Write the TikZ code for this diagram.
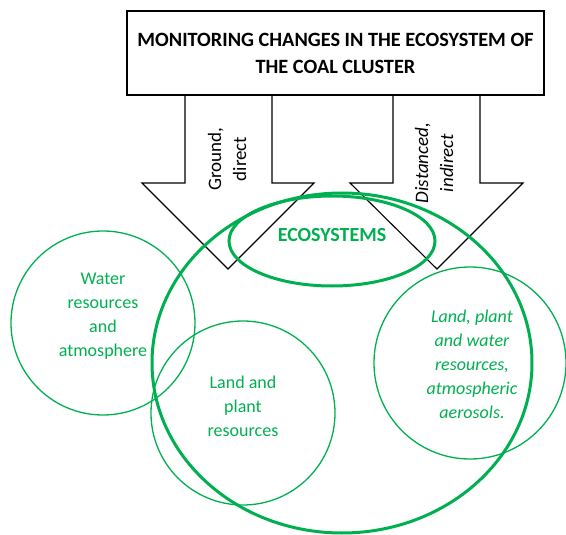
\documentclass[tikz,border=0pt]{standalone}
\usepackage{fontspec}
\usetikzlibrary{shapes.geometric}
\setmainfont{Carlito}
\definecolor{eco}{RGB}{0,176,80}
\begin{document}
\begin{tikzpicture}[x=1pt,y=-1pt,
  thin green/.style={draw=eco,line width=1.3pt},
  thick green/.style={draw=eco,line width=3pt},
  bigarrow/.style={draw=black,line width=1.1pt,line join=miter},
  greentext/.style={text=eco,align=center,font=\fontsize{18}{24}\selectfont},
  arrowtext/.style={align=center,rotate=90,font=\fontsize{19}{25}\selectfont}]
\useasboundingbox (0,0) rectangle (566,535);
% title
\node[draw,line width=2.5pt,minimum width=417pt,minimum height=84pt,inner sep=0pt,
  align=center,font=\bfseries\fontsize{20.3}{27}\selectfont] (title) at (335.5,53)
  {MONITORING CHANGES IN THE ECOSYSTEM OF\\THE COAL CLUSTER};
% arrows
\draw[bigarrow] (185,95) -- (185,183) -- (142,183) -- (228,269) -- (314,183) -- (272,183) -- (272,95);
\draw[bigarrow] (393,95) -- (393,183) -- (350,183) -- (437,269) -- (523,183) -- (480,183) -- (480,95);
\node[arrowtext] (ground) at (227,159) {Ground,\\direct};
\node[arrowtext,font=\itshape\fontsize{19}{25}\selectfont] (dist) at (434,163) {Distanced,\\indirect};
% circles
\draw[thick green] (342,363) ellipse [x radius=190, y radius=170];
\node[thick green,ellipse,minimum width=206pt,minimum height=90pt,inner sep=0pt] (eco) at (332,241) {};
\node[text=eco,font=\bfseries\fontsize{20}{24}\selectfont] (ecot) at (332,235) {ECOSYSTEMS};
\draw[thin green] (103,323) circle [radius=92];
\draw[thin green] (243,413) circle [radius=92];
\draw[thin green] (470,363) circle [radius=96];
\node[greentext] (water) at (103,316) {Water\\resources\\and\\atmosphere};
\node[greentext] (land) at (243,406) {Land and\\plant\\resources};
\node[greentext,font=\itshape\fontsize{18}{24}\selectfont] (lpw) at (472,364) {Land, plant\\and water\\resources,\\atmospheric\\aerosols.};
\end{tikzpicture}
\end{document}
